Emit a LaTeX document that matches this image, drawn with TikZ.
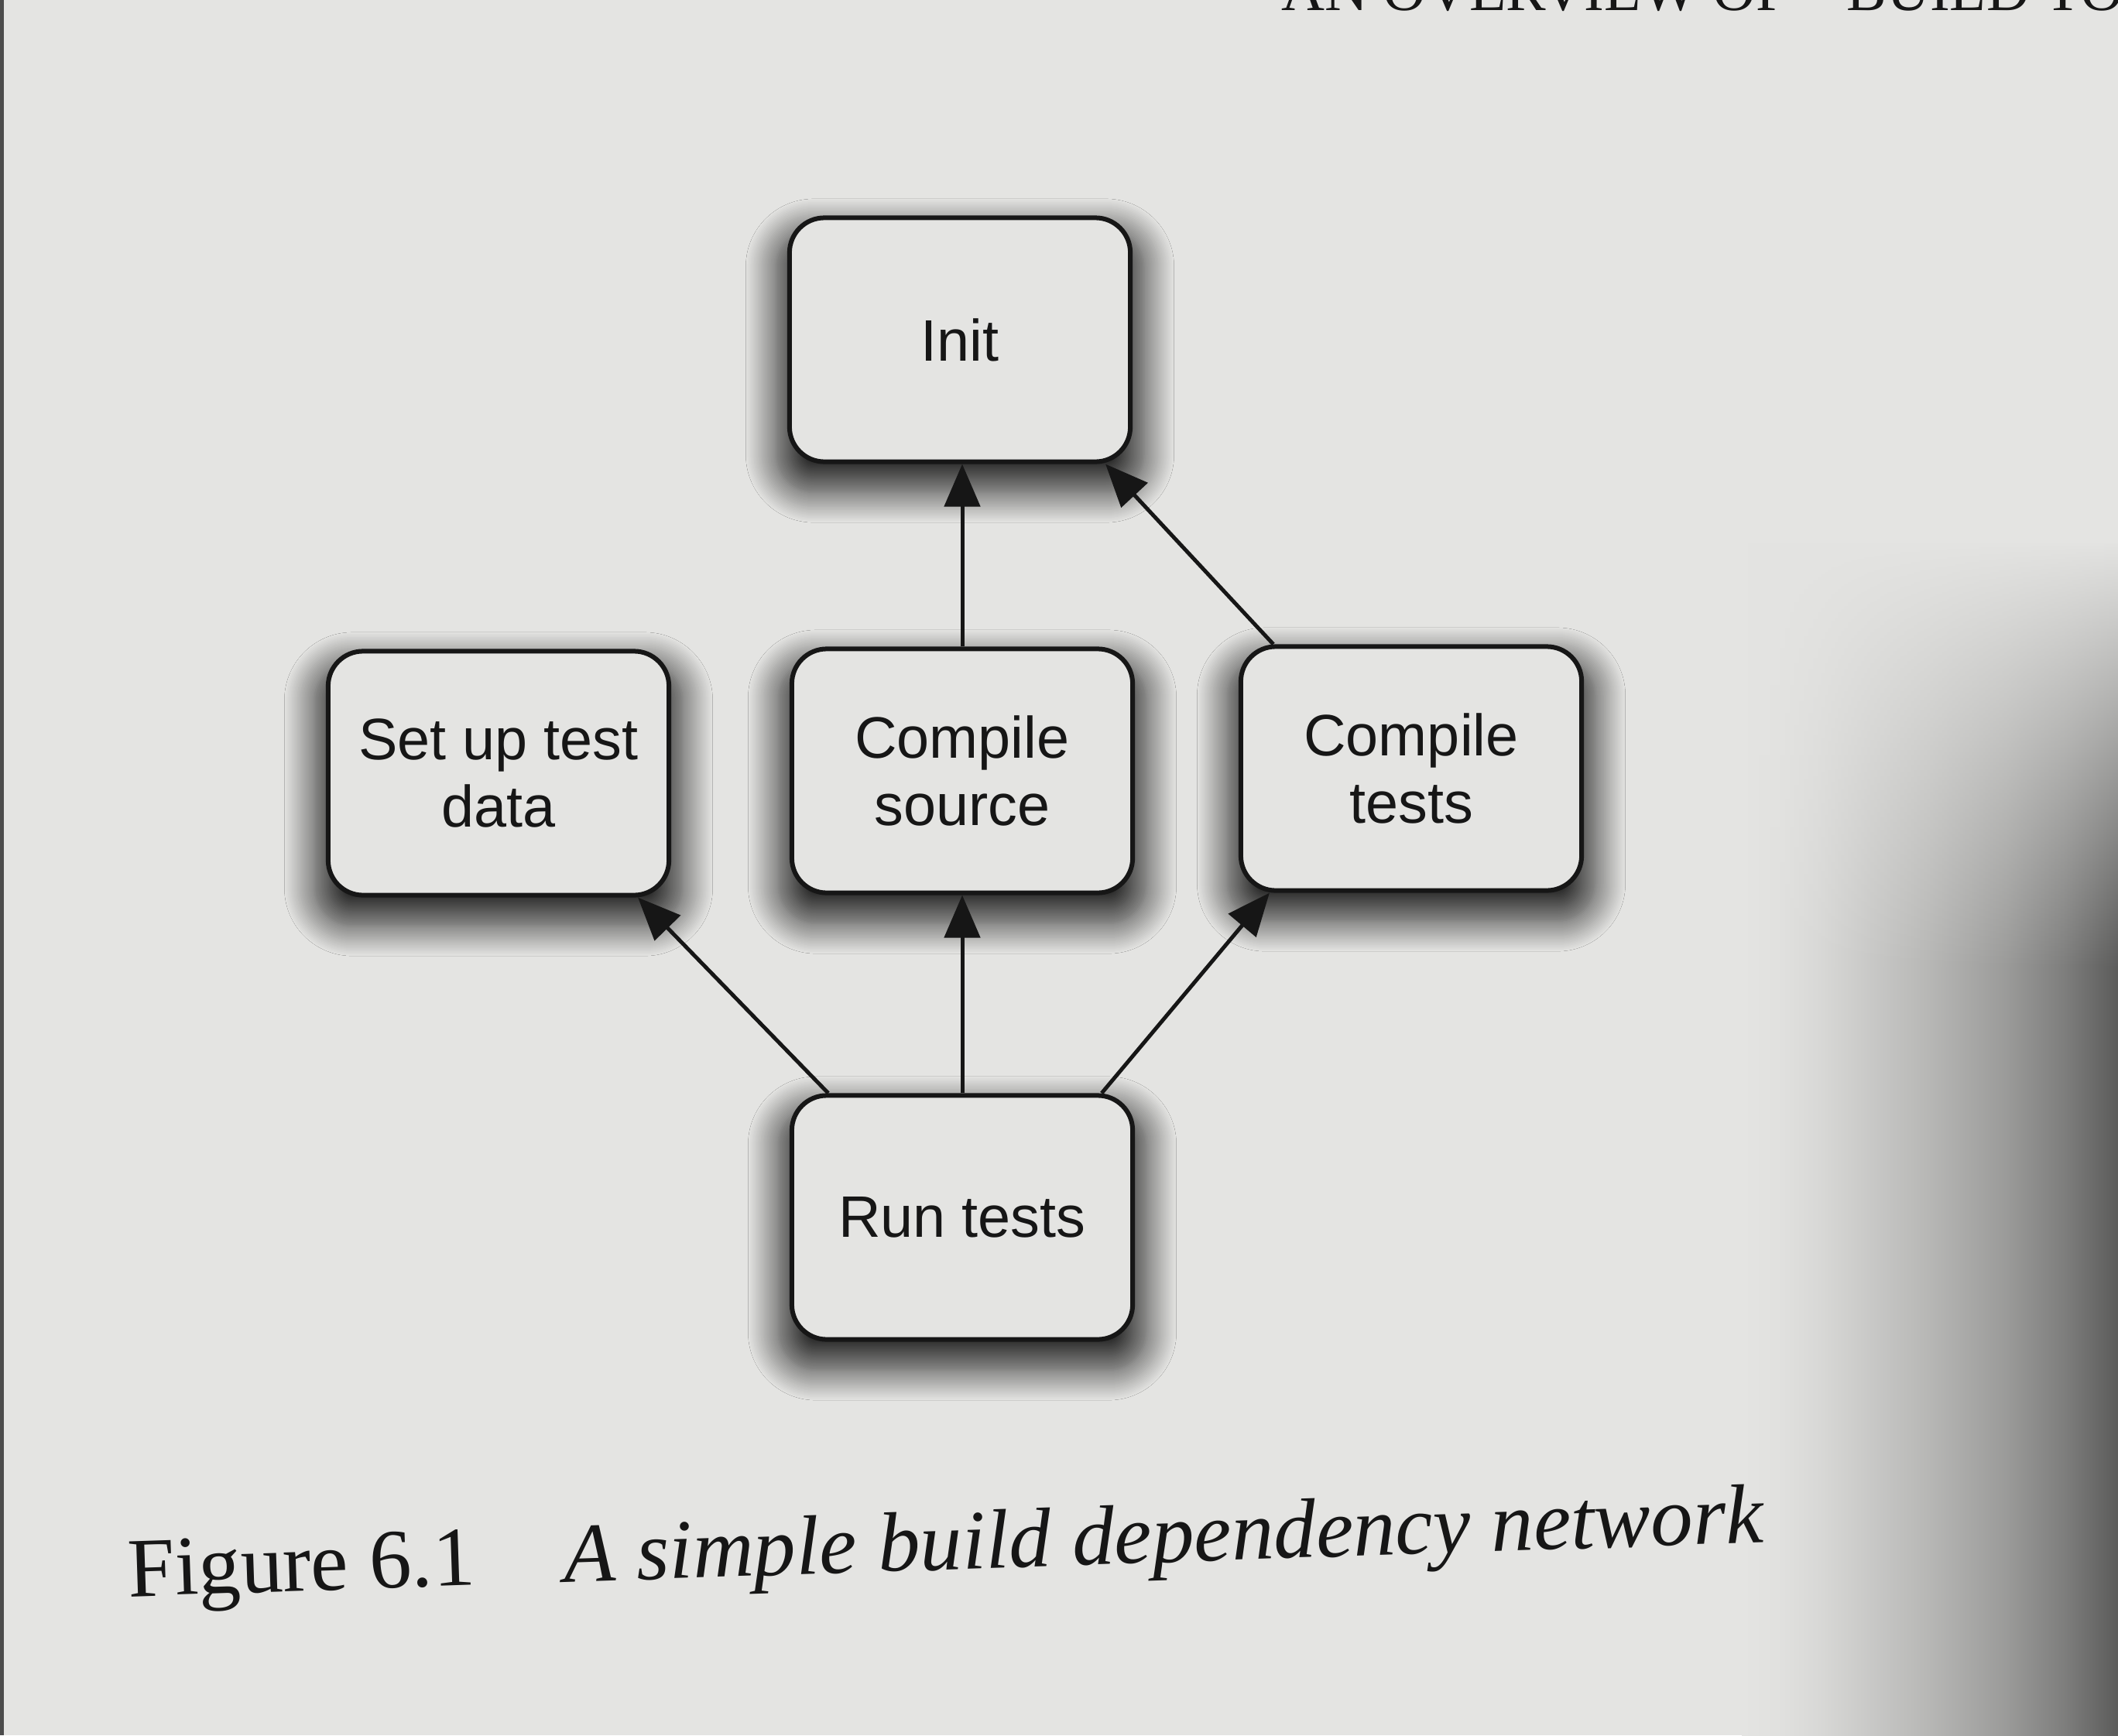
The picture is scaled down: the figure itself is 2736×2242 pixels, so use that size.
\documentclass[tikz,border=0pt]{standalone}
\usepackage{fontspec}
\setmainfont{Liberation Serif}
\newfontfamily\boxfont{Liberation Sans}
\usetikzlibrary{arrows.meta,shadows.blur,fadings}
\definecolor{paper}{RGB}{228,228,226}
\definecolor{ink}{RGB}{22,22,22}
\pgfdeclarehorizontalshading{edgedark}{100bp}{color(0bp)=(paper); color(25bp)=(paper);
  color(30bp)=(paper!98.5!black); color(35bp)=(paper!95!black); color(40bp)=(paper!90!black);
  color(50bp)=(paper!80!black); color(60bp)=(paper!68!black); color(68bp)=(paper!55!black);
  color(75bp)=(paper!40!black); color(100bp)=(paper!40!black)}
\tikzfading[name=downfade, top color=transparent!100, bottom color=transparent!0]
\begin{document}
\begin{tikzpicture}[x=0.01cm,y=-0.01cm,
  taskbox/.style={draw=ink, line width=0.06cm, fill=paper, rounded corners=0.45cm,
    minimum width=4.4cm, minimum height=3.15cm, align=center, text=ink,
    font=\boxfont\fontsize{21.5}{25}\selectfont,
    blur shadow={shadow xshift=0cm, shadow yshift=-0.25cm, shadow scale=1.08,
      shadow blur radius=0.36cm, shadow opacity=80, shadow blur steps=20}},
  dep/.style={draw=ink, line width=0.05cm, -{Triangle[length=0.55cm,width=0.46cm]}}]
% paper
\fill[paper] (0,0) rectangle (2736,2242);
\useasboundingbox (0,0) rectangle (2736,2242);
% page curvature darkening on the right
\shade[shading=edgedark, path fading=downfade] (2250,700) rectangle (2736,1250);
\shade[shading=edgedark] (2250,1249) rectangle (2736,2242);
% left page edge
\fill[black!70] (0,0) rectangle (5,2242);
% running header, cut off by the top edge as in the photograph
\begin{scope}
\clip (0,0) rectangle (2736,2242);
\node[anchor=base east, inner sep=0pt, text=ink, font=\fontsize{22}{26}\selectfont] (hdrA) at (2312,14) {AN OVERVIEW OF};
\node[anchor=base west, inner sep=0pt, text=ink, font=\fontsize{22}{26}\selectfont] (hdrB) at (2385,14) {BUILD TOOLS};
\end{scope}
% boxes
\node[taskbox] (init)  at (1240,439)  {Init};
\node[taskbox] (setup) at (644,999)   {Set up test\\data};
\node[taskbox] (src)   at (1243,996)  {Compile\\source};
\node[taskbox] (tests) at (1823,993)  {Compile\\tests};
\node[taskbox] (run)   at (1243,1573) {Run tests};
% dependencies
\draw[dep] (src.north) -- (src.north |- init.south);
\draw[dep] ([xshift=0.45cm]tests.north west) -- ([xshift=-0.35cm]init.south east);
\draw[dep] ([xshift=0.5cm]run.north west) -- ([xshift=-0.43cm]setup.south east);
\draw[dep] (run.north) -- (run.north |- src.south);
\draw[dep] ([xshift=-0.43cm]run.north east) -- ([xshift=0.4cm]tests.south west);
% caption
\node[anchor=base west, inner sep=0pt, text=ink, rotate=1.9, font=\fontsize{31}{36}\selectfont]
  (cap) at (166,2063) {Figure 6.1\hspace{1.15cm}\textit{A simple build dependency network}};
\end{tikzpicture}
\end{document}
